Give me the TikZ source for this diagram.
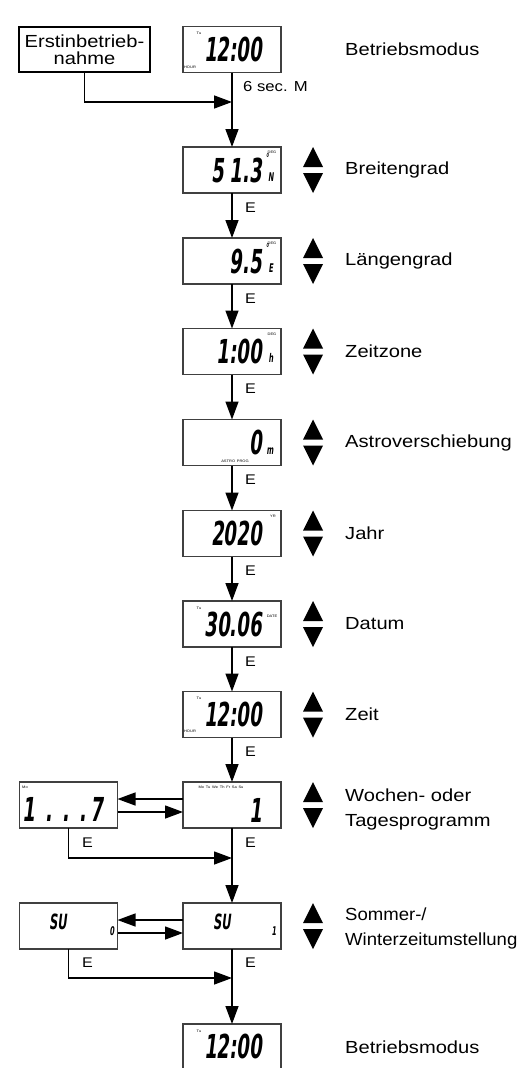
\documentclass[tikz,border=0pt]{standalone}
\usepackage{fontspec}
\setmainfont[FakeStretch=1.15]{Liberation Sans}
\newfontfamily\narrowlabel[FakeStretch=1.06]{Liberation Sans}
\newfontfamily\lcdfont[FakeSlant=0.12,FakeStretch=0.55]{DejaVu Sans Bold}
\usetikzlibrary{arrows.meta,calc}
\newcommand\updownmark[1]{%
  \fill (303,#1-3) -- (323,#1-3) -- (313,#1-23) -- cycle;
  \fill (303,#1+3) -- (323,#1+3) -- (313,#1+23) -- cycle;}
\begin{document}
\begin{tikzpicture}[x=1pt,y=-1pt,
  lcdbox/.style={draw=black!75, line width=1.3pt, minimum width=98pt, minimum height=46pt, inner sep=0pt, outer sep=0pt},
  textbox/.style={draw=black, line width=1.3pt, minimum width=131pt, minimum height=45pt, inner sep=0pt, outer sep=0pt, align=center, font=\fontsize{17.5}{17}\selectfont},
  conn/.style={line width=1.4pt},
  arr/.style={conn, -{Triangle[length=18pt,width=13pt]}},
  lbl/.style={anchor=west, inner sep=0pt, font=\fontsize{17.5}{25}\selectfont, align=left},
  elbl/.style={anchor=west, inner sep=0pt, font=\fontsize{14}{14}\selectfont},
  digits/.style={inner sep=0pt, anchor=south east, font=\fontsize{33}{33}\lcdfont},
  small/.style={inner sep=0pt, font=\fontsize{12}{12}\lcdfont},
  tiny/.style={inner sep=0pt, font=\fontsize{3.5}{3.5}\selectfont},
]
\useasboundingbox (0,0) rectangle (522,1068);

% text box
\node[textbox] (start) at (84.5,49.5) {Erstinbetrieb-\\nahme};

% main display boxes
\node[lcdbox] (b1) at (232,49.5) {};
\node[lcdbox] (b2) at (232,170) {};
\node[lcdbox] (b3) at (232,261) {};
\node[lcdbox] (b4) at (232,351.5) {};
\node[lcdbox] (b5) at (232,442.5) {};
\node[lcdbox] (b6) at (232,533.5) {};
\node[lcdbox] (b7) at (232,624) {};
\node[lcdbox] (b8) at (232,714.5) {};
\node[lcdbox] (b9) at (232,805) {};
\node[lcdbox] (b10) at (232,926) {};
\node[lcdbox] (b11) at (232,1047) {};
\node[lcdbox] (l9) at (68.5,805) {};
\node[lcdbox] (l10) at (68.5,926) {};

% display contents
\node[digits] (d1) at (262,62) {12:00};
\node[tiny] (d1a) at (199,33) {Tu};
\node[tiny] (d1b) at (190,67) {HOUR};

\node[digits] (d2) at (262,183) {5\hspace{6pt}1.3};
\node[small] (d2a) at (267,158) {°};
\node[small] (d2b) at (271,177) {N};
\node[tiny] (d2c) at (272,152) {DEG};

\node[digits] (d3) at (262,274) {9.5};
\node[small] (d3a) at (267,248) {°};
\node[small] (d3b) at (271,268) {E};
\node[tiny] (d3c) at (272,243) {DEG};

\node[digits] (d4) at (262,364) {1:00};
\node[small] (d4b) at (271,358) {h};
\node[tiny] (d4c) at (272,334) {DEG};

\node[digits] (d5) at (262,455) {0};
\node[small] (d5b) at (270,451) {m};
\node[tiny] (d5c) at (235,461) {ASTRO\enspace PROG};

\node[digits] (d6) at (262,546) {2020};
\node[tiny] (d6c) at (273,516) {YR};

\node[digits] (d7) at (262,637) {30.06};
\node[tiny] (d7a) at (199,608) {Tu};
\node[tiny] (d7c) at (272,616) {DATE};

\node[digits] (d8) at (262,727) {12:00};
\node[tiny] (d8a) at (199,698) {Tu};
\node[tiny] (d8b) at (190,731) {HOUR};

\node[tiny] (d9a) at (221,787) {Mo\enspace Tu\enspace We\enspace Th\enspace Fr\enspace Sa\enspace Su};
\node[digits] (d9) at (262,823) {1};
\node[tiny] (e9a) at (25,787) {Mo};
\node[digits] (e9) at (103,822) {1\hspace{10pt}.\hspace{10pt}.\hspace{10pt}.\hspace{4pt}7};

\node[digits, font=\fontsize{21}{21}\lcdfont] (d10) at (231,930) {SU};
\node[small] (d10b) at (274,931) {1};
\node[digits, font=\fontsize{21}{21}\lcdfont] (e10) at (67,930) {SU};
\node[small] (e10b) at (112,931) {0};

\node[digits] (d11) at (262,1059) {12:00};
\node[tiny] (d11a) at (199,1031) {Tu};

% up/down marks
\updownmark{170}
\updownmark{261}
\updownmark{351.5}
\updownmark{442.5}
\updownmark{533.5}
\updownmark{624}
\updownmark{714.5}
\updownmark{805}
\updownmark{926}

% labels
\node[lbl] (t1) at (345,49.5) {Betriebsmodus};
\node[lbl] (t2) at (345,170) {Breitengrad};
\node[lbl] (t3) at (345,261) {Längengrad};
\node[lbl] (t4) at (345,351.5) {Zeitzone};
\node[lbl] (t5) at (345,442.5) {Astroverschiebung};
\node[lbl] (t6) at (345,533.5) {Jahr};
\node[lbl] (t7) at (345,624) {Datum};
\node[lbl] (t8) at (345,714.5) {Zeit};
\node[lbl] (t9) at (345,809.5) {Wochen- oder\\Tagesprogramm};
\node[lbl, font=\fontsize{17.5}{25}\narrowlabel] (t10) at (345,928.5) {Sommer-/\\Winterzeitumstellung};
\node[lbl] (t11) at (345,1047) {Betriebsmodus};

% connectors
\coordinate (j1) at (232,102);
\coordinate (j9) at (232,858);
\coordinate (j10) at (232,978);
\draw[arr] (b1.south) -- (b2.north);
\draw[arr] (start.south) |- (j1);
\node[elbl, font=\fontsize{14.5}{14.5}\selectfont] (sec) at (243,87) {6 sec. M};
\draw[arr] (b2.south) -- (b3.north);
\draw[arr] (b3.south) -- (b4.north);
\draw[arr] (b4.south) -- (b5.north);
\draw[arr] (b5.south) -- (b6.north);
\draw[arr] (b6.south) -- (b7.north);
\draw[arr] (b7.south) -- (b8.north);
\draw[arr] (b8.south) -- (b9.north);
\draw[arr] (b9.south) -- (b10.north);
\draw[arr] (b10.south) -- (b11.north);
\draw[arr] ($(b9.west)+(0,-6)$) -- ($(l9.east)+(0,-6)$);
\draw[arr] ($(l9.east)+(0,7)$) -- ($(b9.west)+(0,7)$);
\draw[arr] (l9.south) |- (j9);
\draw[arr] ($(b10.west)+(0,-6)$) -- ($(l10.east)+(0,-6)$);
\draw[arr] ($(l10.east)+(0,7)$) -- ($(b10.west)+(0,7)$);
\draw[arr] (l10.south) |- (j10);

% E labels
\node[elbl] (e2) at (245,208) {E};
\node[elbl] (e3) at (245,299) {E};
\node[elbl] (e4) at (245,389) {E};
\node[elbl] (e5) at (245,480) {E};
\node[elbl] (e6) at (245,571) {E};
\node[elbl] (e7) at (245,662) {E};
\node[elbl] (e8) at (245,752) {E};
\node[elbl] (e9r) at (245,843) {E};
\node[elbl] (e9l) at (82,843) {E};
\node[elbl] (e10r) at (245,963) {E};
\node[elbl] (e10l) at (82,963) {E};
\end{tikzpicture}
\end{document}
